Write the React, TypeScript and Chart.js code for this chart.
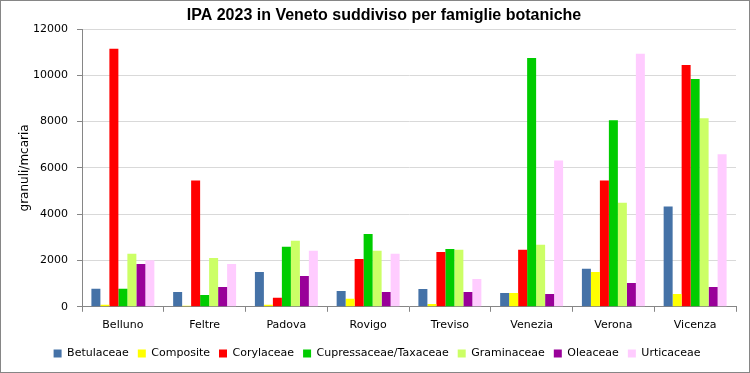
import React, { useEffect, useRef } from "react";
import { Chart, registerables } from "chart.js";

Chart.register(...registerables);

const categories = ["Belluno", "Feltre", "Padova", "Rovigo", "Treviso", "Venezia", "Verona", "Vicenza"];

const betulaceae = [780, 640, 1500, 680, 770, 600, 1640, 4330];
const composite = [90, 40, 90, 350, 120, 600, 1500, 550];
const corylaceae = [11150, 5460, 390, 2070, 2370, 2460, 5460, 10450];
const cupressaceae = [780, 510, 2590, 3150, 2500, 10750, 8060, 9840];
const graminaceae = [2290, 2110, 2850, 2420, 2460, 2680, 4500, 8150];
const oleaceae = [1850, 860, 1330, 640, 640, 550, 1030, 860];
const urticaceae = [2010, 1850, 2420, 2290, 1200, 6320, 10930, 6590];

const seriesNames = ["Betulaceae", "Composite", "Corylaceae", "Cupressaceae/Taxaceae", "Graminaceae", "Oleaceae", "Urticaceae"];
const seriesColors = ["#4572A7", "#FFFF00", "#FF0000", "#00CC00", "#CCFF66", "#990099", "#FFCCFF"];
const seriesData = [betulaceae, composite, corylaceae, cupressaceae, graminaceae, oleaceae, urticaceae];

const titleText = "IPA 2023 in Veneto suddiviso per famiglie botaniche";
const yMax = 12000;
const yStep = 2000;

const titlePlugin = {
  id: "customTitle",
  afterDraw(chart: any) {
    const ctx = chart.ctx;
    ctx.save();
    ctx.font = "bold 16px 'Liberation Sans', Arial, sans-serif";
    ctx.fillStyle = "#000";
    ctx.textAlign = "center";
    ctx.textBaseline = "middle";
    ctx.fillText(titleText, 383, 15);
    ctx.restore();
  },
};

export default function App() {
  const canvasRef = useRef<HTMLCanvasElement | null>(null);

  useEffect(() => {
    document.body.style.margin = "0";
    const canvas = canvasRef.current;
    if (!canvas) return;
    const chart = new Chart(canvas, {
      type: "bar",
      data: {
        labels: categories,
        datasets: seriesNames.map((name, i) => ({
          label: name,
          data: seriesData[i],
          backgroundColor: seriesColors[i],
          borderWidth: 0,
          categoryPercentage: 0.77,
          barPercentage: 1.0,
        })),
      },
      plugins: [titlePlugin],
      options: {
        responsive: true,
        maintainAspectRatio: false,
        animation: false,
        layout: { padding: { left: 17, right: 13, top: 28, bottom: 3 } },
        plugins: {
          title: { display: false },
          legend: {
            position: "bottom",
            labels: {
              color: "#000",
              boxWidth: 8,
              boxHeight: 8,
              padding: 9,
              font: { family: "'DejaVu Sans', Verdana, sans-serif", size: 11 },
            },
          },
          tooltip: { enabled: false },
        },
        scales: {
          x: {
            grid: {
              offset: true,
              drawOnChartArea: false,
              drawTicks: true,
              tickLength: 5,
              color: "#868686",
            },
            border: { color: "#868686" },
            ticks: {
              color: "#000",
              padding: 7,
              font: { family: "'DejaVu Sans', Verdana, sans-serif", size: 11 },
            },
          },
          y: {
            min: 0,
            max: yMax,
            afterFit: (scale: any) => {
              scale.width = 64;
            },
            ticks: {
              stepSize: yStep,
              color: "#000",
              padding: 9,
              font: { family: "'DejaVu Sans', Verdana, sans-serif", size: 11 },
              callback: (v: any) => String(v),
            },
            grid: { color: "#D9D9D9", tickColor: "#868686", tickLength: 5 },
            border: { color: "#868686" },
            title: {
              display: true,
              text: "granuli/mcaria",
              color: "#000",
              font: { family: "'DejaVu Sans', Verdana, sans-serif", size: 12 },
              padding: { top: 0, bottom: 0 },
            },
          },
        },
      },
    });
    return () => chart.destroy();
  }, []);

  return (
    <div
      style={{
        width: 750,
        height: 373,
        boxSizing: "border-box",
        border: "1px solid #868686",
        position: "relative",
        background: "#fff",
      }}
    >
      <canvas ref={canvasRef} />
    </div>
  );
}
